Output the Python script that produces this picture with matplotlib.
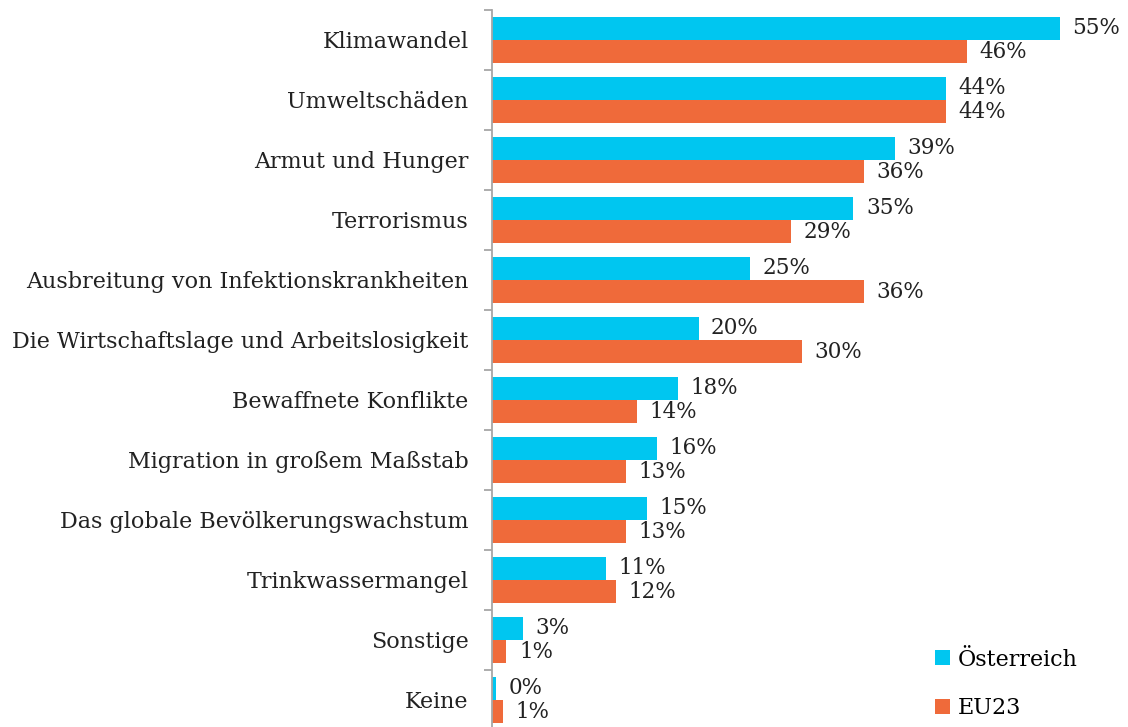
import matplotlib.pyplot as plt
import numpy as np

plt.rcParams['font.family'] = ['DejaVu Serif']

categories = ['Klimawandel', 'Umweltschäden', 'Armut und Hunger', 'Terrorismus',
              'Ausbreitung von Infektionskrankheiten',
              'Die Wirtschaftslage und Arbeitslosigkeit', 'Bewaffnete Konflikte',
              'Migration in großem Maßstab', 'Das globale Bevölkerungswachstum',
              'Trinkwassermangel', 'Sonstige', 'Keine']
austria = [55, 44, 39, 35, 25, 20, 18, 16, 15, 11, 3, 0.4]
austria_labels = ['55%', '44%', '39%', '35%', '25%', '20%', '18%', '16%', '15%', '11%', '3%', '0%']
eu23 = [46, 44, 36, 29, 36, 30, 14, 13, 13, 12, 1.4, 1.1]
eu23_labels = ['46%', '44%', '36%', '29%', '36%', '30%', '14%', '13%', '13%', '12%', '1%', '1%']

c_at = '#00C6F0'
c_eu = '#EF6A3A'

fig = plt.figure(figsize=(11.28, 7.27), dpi=100)
ax = fig.add_axes([0.4362, -0.0041, 0.5638, 0.9904])

y = np.arange(len(categories))
h = 0.39
ax.barh(y - h / 2, austria, height=h, color=c_at, label='Österreich')
ax.barh(y + h / 2, eu23, height=h, color=c_eu, label='EU23')

for yi, v, lab in zip(y, austria, austria_labels):
    ax.annotate(lab, (v, yi - h / 2), xytext=(9, 0), textcoords='offset points',
                va='center', ha='left', fontsize=15.5, color='#222222')
for yi, v, lab in zip(y, eu23, eu23_labels):
    ax.annotate(lab, (v, yi + h / 2), xytext=(9, 0), textcoords='offset points',
                va='center', ha='left', fontsize=15.5, color='#222222')

ax.set_xlim(0, 61.6)
ax.set_ylim(len(categories) - 0.5, -0.5)
ax.set_yticks(y)
ax.set_yticklabels(categories, fontsize=16, color='#222222')
ax.set_yticks(np.arange(-0.5, len(categories), 1), minor=True)
ax.tick_params(axis='y', which='major', length=0, pad=17)
ax.tick_params(axis='y', which='minor', length=6, width=1.3, color='#A6A6A6')
ax.set_xticks([])
for s in ['top', 'right', 'bottom']:
    ax.spines[s].set_visible(False)
ax.spines['left'].set_color('#A6A6A6')
ax.spines['left'].set_linewidth(1.3)

handles, labels = ax.get_legend_handles_labels()
leg = ax.legend(handles, labels, loc='lower right', bbox_to_anchor=(0.952, -0.013),
                frameon=False, fontsize=16, handlelength=0.65, handleheight=0.65,
                handletextpad=0.35, labelspacing=1.2)

fig.savefig('out.png', dpi=100)
